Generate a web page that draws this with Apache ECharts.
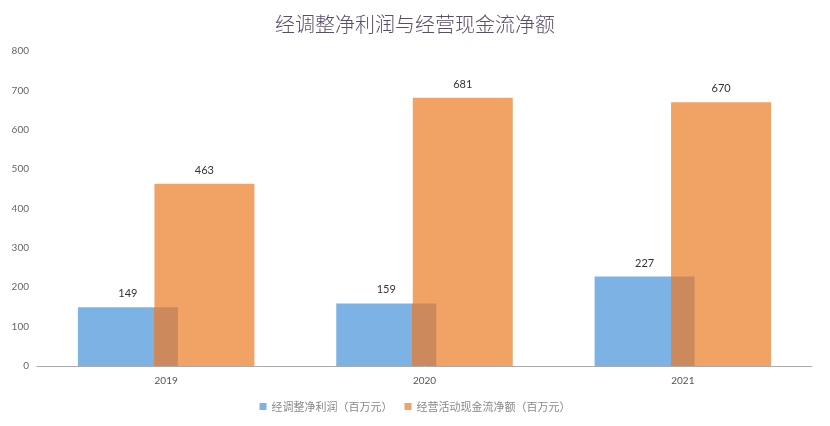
<!DOCTYPE html>
<html>
<head>
<meta charset="utf-8">
<script src="https://cdn.jsdelivr.net/npm/echarts@6/dist/echarts.min.js"></script>
<style>
  html, body { margin: 0; padding: 0; background: #fff; }
  #main { width: 830px; height: 426px; }
</style>
</head>
<body>
<div id="main"></div>
<script>
const years = ['2019', '2020', '2021'];
const profit_values = [149, 159, 227];       // 经调整净利润
const cashflow_values = [463, 681, 670];     // 经营活动现金流净额
const series_names = ['经调整净利润（百万元）', '经营活动现金流净额（百万元）'];

const blue = '#7db2e4';
const orange = '#f1a265';
const overlap = '#cc8a5c';

const labelStyle = {
    show: true,
    position: 'top',
    distance: 8,
    color: '#333',
    fontSize: 11,
    fontFamily: 'Lato'
};

const option = {
    backgroundColor: '#fff',
    title: {
        text: '经调整净利润与经营现金流净额',
        left: 'center',
        top: 9,
        textStyle: {
            color: '#5a4d68',
            fontSize: 20,
            fontWeight: 300,
            fontFamily: 'Noto Sans CJK SC'
        }
    },
    legend: {
        bottom: 9,
        left: 'center',
        itemWidth: 7,
        itemHeight: 7,
        itemGap: 12,
        icon: 'rect',
        textStyle: { color: '#888', fontSize: 11, fontFamily: 'Noto Sans CJK SC' }
    },
    grid: { left: 37, right: 18, top: 51, bottom: 60 },
    xAxis: {
        type: 'category',
        data: years,
        axisTick: { show: false },
        axisLine: { lineStyle: { color: '#aaa' } },
        axisLabel: { color: '#555', fontSize: 10, margin: 10, fontFamily: 'Lato' }
    },
    yAxis: {
        type: 'value',
        min: 0,
        max: 800,
        interval: 100,
        axisLine: { show: false },
        axisTick: { show: false },
        splitLine: { show: false },
        axisLabel: { color: '#666', fontSize: 10, margin: 8, fontFamily: 'Lato' }
    },
    series: [
        {
            name: series_names[0],
            type: 'bar',
            z: 3,
            barWidth: 100,
            barGap: '-23.5%',
            data: profit_values,
            label: labelStyle,
            itemStyle: {
                // right part of the blue bar sits over the orange one
                color: {
                    type: 'linear', x: 0, y: 0, x2: 1, y2: 0,
                    colorStops: [
                        { offset: 0, color: blue },
                        { offset: 0.76, color: blue },
                        { offset: 0.76, color: overlap },
                        { offset: 1, color: overlap }
                    ]
                }
            }
        },
        {
            name: series_names[1],
            type: 'bar',
            z: 2,
            barWidth: 100,
            data: cashflow_values,
            label: labelStyle,
            itemStyle: { color: orange }
        }
    ]
};

// legend icon for blue should be plain blue
option.legend.data = [
    { name: series_names[0], itemStyle: { color: blue } },
    { name: series_names[1], itemStyle: { color: orange } }
];

const chart = echarts.init(document.getElementById('main'));
chart.setOption(option);
</script>
</body>
</html>
